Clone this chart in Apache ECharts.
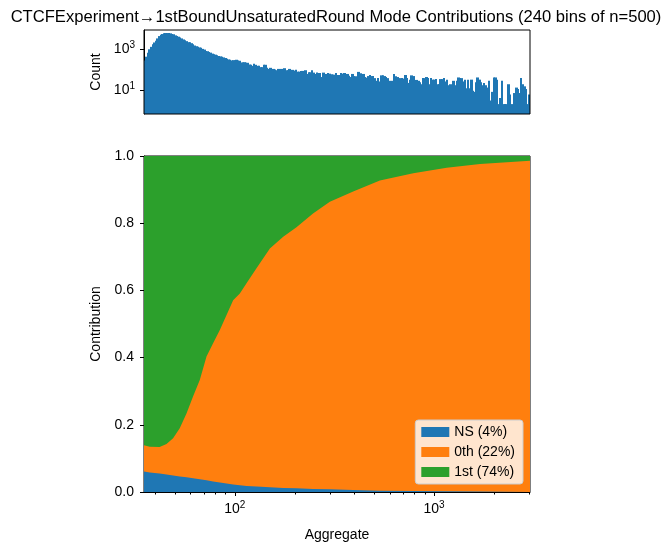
<!DOCTYPE html>
<html>
<head>
<meta charset="utf-8">
<script src="https://cdn.jsdelivr.net/npm/echarts@6/dist/echarts.min.js"></script>
<style>
  html, body { margin: 0; padding: 0; background: #fff; }
  #chart { width: 672px; height: 553px; }
</style>
</head>
<body>
<div id="chart"></div>
<script>
// ---- data ----
const chartTitle = 'CTCFExperiment\u21921stBoundUnsaturatedRound Mode Contributions (240 bins of n=500)';

// histogram: 240 log-spaced bins between binMin and binMax
const binMin = 35;
const binMax = 3035;
const binCount = 240;
const counts = [
  282, 432, 684, 1000, 1318, 1778, 2163, 2630, 3428, 4467,
  5248, 5623, 6095, 6310, 6310, 6310, 6095, 5623, 5500, 4842,
  4467, 4169, 3846, 3428, 3055, 2818, 2512, 2239, 2239, 1995,
  1778, 1531, 1413, 1318, 1230, 1175, 1047, 966, 832, 803,
  741, 684, 610, 562, 543, 501, 468, 447, 432, 398,
  372, 343, 316, 305, 282, 292, 282, 305, 282, 272,
  224, 224, 232, 216, 216, 178, 172, 153, 193, 172,
  153, 153, 132, 132, 172, 172, 122, 108, 122, 89,
  108, 100, 93, 108, 108, 108, 108, 117, 93, 93,
  108, 93, 97, 89, 97, 79, 79, 86, 86, 86,
  93, 61, 74, 74, 93, 71, 61, 71, 68, 68,
  43, 71, 61, 61, 68, 63, 59, 56, 56, 68,
  54, 54, 68, 63, 68, 61, 61, 50, 43, 61,
  47, 47, 43, 77, 66, 48, 61, 43, 40, 48,
  54, 48, 48, 38, 28, 38, 26, 52, 52, 48,
  43, 38, 28, 24, 28, 61, 47, 43, 36, 38,
  38, 36, 54, 38, 22, 32, 52, 48, 31, 31,
  28, 24, 19, 38, 38, 43, 38,
  19, 38, 32, 32, 34, 19, 19, 34, 34, 38,
  26, 32, 17, 19, 12, 28, 17, 28, 41, 38,
  38, 26, 32, 12, 32, 12, 32, 9, 8, 24,
  41, 32, 24, 17, 22, 17, 13, 28, 3, 8,
  41, 41, 32, 2, 4, 28, 2, 2, 2, 19,
  6, 2, 1, 7, 13, 11, 7, 38, 19, 15,
  11, 2, 6
];

// stacked contributions
const fracX = [35, 37.4, 41.9, 45.4, 49, 52.9, 57.2, 61.7, 66.7, 72.1, 77.8, 84.1, 90.9, 98.1,
  106, 114.5, 128.5, 150, 175, 204, 247, 300, 393, 535, 787, 1158, 1703, 3035];
const nsShare = [0.061, 0.058, 0.055, 0.052, 0.049, 0.046, 0.044, 0.041, 0.038, 0.035, 0.031, 0.028, 0.025, 0.022,
  0.020, 0.018, 0.016, 0.014, 0.012, 0.011, 0.009, 0.008, 0.006, 0.004, 0.003, 0.002, 0.0015, 0.001];
const zerothShare = [0.078, 0.077, 0.079, 0.091, 0.111, 0.144, 0.190, 0.243, 0.295, 0.368, 0.412, 0.454, 0.502, 0.549,
  0.571, 0.603, 0.650, 0.711, 0.748, 0.777, 0.820, 0.856, 0.888, 0.923, 0.946, 0.963, 0.9745, 0.985];
const firstShare = [0.861, 0.865, 0.866, 0.857, 0.840, 0.810, 0.766, 0.716, 0.667, 0.597, 0.557, 0.518, 0.473, 0.429,
  0.409, 0.379, 0.334, 0.275, 0.240, 0.212, 0.171, 0.136, 0.106, 0.073, 0.051, 0.035, 0.024, 0.014];
const seriesNames = ['NS (4%)', '0th (22%)', '1st (74%)'];

const xMajorTicks = [100, 1000];
const xMinorTicks = [40, 50, 60, 70, 80, 90, 200, 300, 400, 500, 600, 700, 800, 900, 2000, 3000];
const countTicks = [10, 1000];

// ---- chart ----
const colors = ['#1f77b4', '#ff7f0e', '#2ca02c'];
const font = "'Liberation Sans', Arial, sans-serif";
const countMin = 0.65;
const countMax = 8900;

const logStep = (Math.log10(binMax) - Math.log10(binMin)) / binCount;
const histData = counts.map((c, i) => [
  Math.pow(10, Math.log10(binMin) + i * logStep),
  Math.pow(10, Math.log10(binMin) + (i + 1) * logStep),
  c
]);

const supLabel = v => {
  const e = Math.round(Math.log10(v));
  return '{b|10}{s|' + e + '}';
};
const supRich = {
  b: { fontSize: 14, fontFamily: font, color: '#000' },
  s: { fontSize: 10, fontFamily: font, color: '#000', padding: [0, 0, 8, 0] }
};

// cumulative tops of the stacked layers
const shares = [nsShare, zerothShare, firstShare];
const layerTops = shares.map((_, k) => fracX.map((x, j) => {
  let s = 0;
  for (let m = 0; m <= k; m++) s += shares[m][j];
  return [x, s];
}));

const chart = echarts.init(document.getElementById('chart'));

// draw the top layer first, each area filled down to 0
const stackSeries = [2, 1, 0].map(i => ({
  name: seriesNames[i],
  type: 'line',
  xAxisIndex: 1,
  yAxisIndex: 1,
  symbol: 'none',
  silent: true,
  lineStyle: { width: 0 },
  areaStyle: { color: colors[i], opacity: 1, origin: 'start' },
  itemStyle: { color: colors[i] },
  data: layerTops[i]
}));

chart.setOption({
  animation: false,
  textStyle: { fontFamily: font },
  title: {
    text: chartTitle,
    left: 'center',
    top: 4,
    textStyle: { fontSize: 16.6, fontWeight: 'normal', color: '#000', fontFamily: font }
  },
  legend: {
    data: seriesNames,
    orient: 'vertical',
    right: 149,
    bottom: 69,
    icon: 'rect',
    itemWidth: 28,
    itemHeight: 10,
    itemGap: 6,
    padding: [5, 8, 5, 6],
    backgroundColor: 'rgba(255,255,255,0.8)',
    borderColor: '#cccccc',
    borderWidth: 1,
    borderRadius: 3,
    textStyle: { fontSize: 14, color: '#000', fontFamily: font }
  },
  grid: [
    { left: 144, right: 142, top: 30, height: 84, show: true, borderColor: '#000', borderWidth: 1, backgroundColor: 'transparent', z: 5 },
    { left: 144, right: 142, top: 156, height: 336, show: true, borderColor: '#000', borderWidth: 1, backgroundColor: 'transparent' }
  ],
  xAxis: [
    {
      gridIndex: 0, type: 'log', logBase: 10, min: binMin, max: binMax,
      axisLine: { show: false }, axisTick: { show: false }, axisLabel: { show: false }, splitLine: { show: false }
    },
    {
      gridIndex: 1, type: 'log', logBase: 10, min: binMin, max: binMax, position: 'bottom',
      name: 'Aggregate', nameLocation: 'middle', nameGap: 36,
      nameTextStyle: { fontSize: 14, color: '#000', fontFamily: font },
      axisLine: { show: true, lineStyle: { color: '#000' } },
      axisTick: { show: true, length: 4, customValues: xMajorTicks, lineStyle: { color: '#000' } },
      axisLabel: { customValues: xMajorTicks, margin: 8, formatter: supLabel, rich: supRich },
      splitLine: { show: false }
    },
    {
      gridIndex: 1, type: 'log', logBase: 10, min: binMin, max: binMax, position: 'bottom', offset: 0,
      axisLine: { show: false },
      axisTick: { show: true, length: 2.5, customValues: xMinorTicks, lineStyle: { color: '#000' } },
      axisLabel: { show: false },
      splitLine: { show: false }
    }
  ],
  yAxis: [
    {
      gridIndex: 0, type: 'log', logBase: 10, min: countMin, max: countMax,
      name: 'Count', nameLocation: 'middle', nameGap: 41,
      nameTextStyle: { fontSize: 14, color: '#000', fontFamily: font },
      axisLine: { show: true, lineStyle: { color: '#000' } },
      axisTick: { show: true, length: 4, customValues: countTicks, lineStyle: { color: '#000' } },
      axisLabel: { customValues: countTicks, margin: 9, formatter: supLabel, rich: supRich },
      splitLine: { show: false }
    },
    {
      gridIndex: 1, type: 'value', min: 0, max: 1, interval: 0.2,
      name: 'Contribution', nameLocation: 'middle', nameGap: 32,
      nameTextStyle: { fontSize: 14, color: '#000', fontFamily: font },
      axisLine: { show: true, lineStyle: { color: '#000' } },
      axisTick: { show: true, length: 4, lineStyle: { color: '#000' } },
      axisLabel: { fontSize: 14, color: '#000', margin: 10, formatter: v => v.toFixed(1) },
      splitLine: { show: false }
    }
  ],
  series: [
    {
      type: 'custom',
      xAxisIndex: 0,
      yAxisIndex: 0,
      silent: true,
      encode: { x: [0, 1], y: 2 },
      data: histData,
      renderItem: (params, api) => {
        const p0 = api.coord([api.value(0), api.value(2)]);
        const p1 = api.coord([api.value(1), countMin]);
        const x0 = Math.floor(p0[0]);
        const x1 = Math.ceil(p1[0]);
        return {
          type: 'rect',
          shape: { x: x0, y: p0[1], width: x1 - x0, height: p1[1] - p0[1] },
          style: { fill: colors[0] }
        };
      }
    }
  ].concat(stackSeries)
});
</script>
</body>
</html>
